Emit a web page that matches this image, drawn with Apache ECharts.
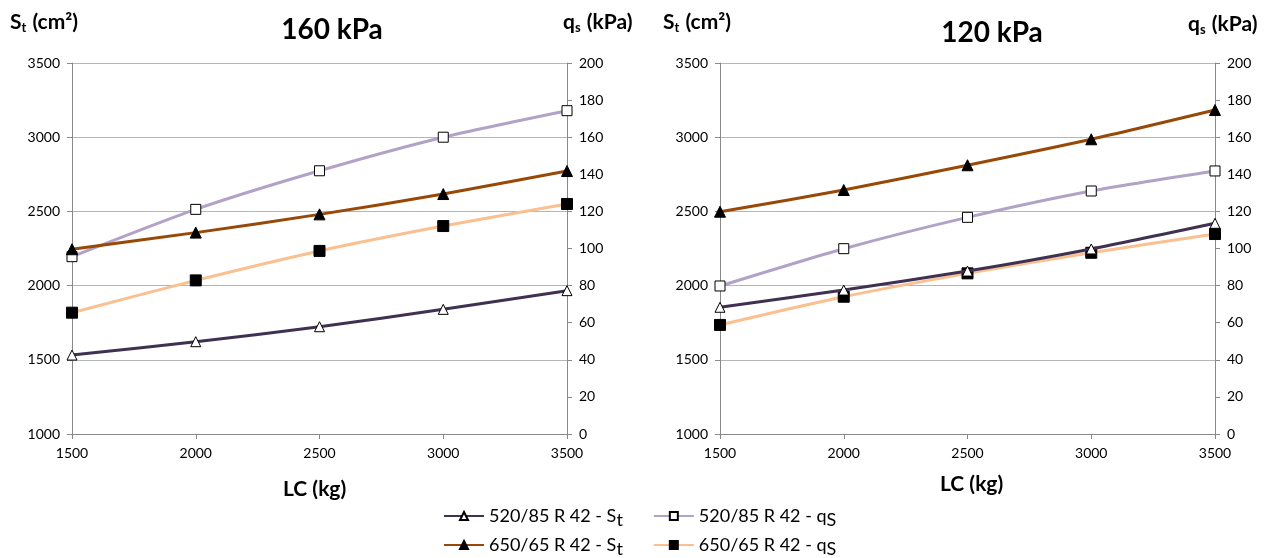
<!DOCTYPE html>
<html>
<head>
<meta charset="utf-8">
<script src="https://cdn.jsdelivr.net/npm/echarts@6/dist/echarts.min.js"></script>
<style>html,body{margin:0;padding:0;background:#fff;}#c{width:1272px;height:558px;}</style>
</head>
<body>
<div id="c"></div>
<script>
var loads = [1500, 2000, 2500, 3000, 3500];
// 160 kPa
var st520_160 = [1532, 1622, 1723, 1840, 1966];
var st650_160 = [2245, 2357, 2480, 2617, 2772];
var qs520_160 = [95.6, 121.1, 141.9, 160.0, 174.3];
var qs650_160 = [65.4, 82.8, 98.7, 112.1, 124.0];
// 120 kPa
var st520_120 = [1854, 1970, 2098, 2247, 2420];
var st650_120 = [2498, 2644, 2811, 2986, 3183];
var qs520_120 = [79.8, 99.9, 116.8, 131.0, 141.8];
var qs650_120 = [58.8, 74.0, 86.6, 97.7, 107.8];
var stTicks = {min: 1000, max: 3500, interval: 500};
var qsTicks = {min: 0, max: 200, interval: 20};
var lcTicks = {min: 1500, max: 3500, interval: 500};

var names = ['520/85 R 42 - St', '520/85 R 42 - qs', '650/65 R 42 - St', '650/65 R 42 - qs'];
var FONT = 'Lato';
function pairs(ys) { return loads.map(function (x, i) { return [x, ys[i]]; }); }

var styles = [
  {color: '#403152', symbol: 'triangle', fill: '#ffffff', size: 10},
  {color: '#b3a2c7', symbol: 'rect', fill: '#ffffff', size: 10},
  {color: '#984807', symbol: 'triangle', fill: '#000000', size: 11},
  {color: '#fac090', symbol: 'rect', fill: '#000000', size: 11}
];

function mkSeries(idx, data, xi, yi) {
  var s = styles[idx];
  return {
    name: names[idx], type: 'line', xAxisIndex: xi, yAxisIndex: yi,
    data: pairs(data), smooth: 0.25, symbol: s.symbol, symbolSize: s.size,
    showAllSymbol: true,
    lineStyle: {color: s.color, width: 3},
    itemStyle: {color: s.fill, borderColor: '#000', borderWidth: 1},
    emphasis: {disabled: true}, z: idx === 0 || idx === 2 ? 3 : 2
  };
}

function plain(v) { return String(v); }
var axisLabel = {color: '#000', fontFamily: FONT, fontSize: 14, formatter: plain};
var axisLine = {show: true, lineStyle: {color: '#898989', width: 1}};
var axisTick = {show: true, inside: false, length: 5, lineStyle: {color: '#898989'}};

function xAx(gi) {
  return {type: 'value', gridIndex: gi, min: lcTicks.min, max: lcTicks.max, interval: lcTicks.interval,
    axisLine: axisLine, axisTick: axisTick, splitLine: {show: false},
    axisLabel: Object.assign({margin: 12}, axisLabel)};
}
function yLeft(gi) {
  return {type: 'value', gridIndex: gi, position: 'left', min: stTicks.min, max: stTicks.max, interval: stTicks.interval,
    axisLine: axisLine, axisTick: axisTick,
    splitLine: {show: true, lineStyle: {color: '#b5b5b5', width: 1}},
    axisLabel: Object.assign({margin: 12}, axisLabel)};
}
function yRight(gi) {
  return {type: 'value', gridIndex: gi, position: 'right', min: qsTicks.min, max: qsTicks.max, interval: qsTicks.interval,
    axisLine: axisLine, axisTick: axisTick, splitLine: {show: false},
    axisLabel: Object.assign({margin: 12}, axisLabel)};
}

var richTitle = {
  a: {fontFamily: FONT, fontSize: 21, fontWeight: 'bold', color: '#000'},
  b: {fontFamily: FONT, fontSize: 13, fontWeight: 'bold', color: '#000', padding: [11, 1, 0, 0]}
};
function gText(x, y, text) {
  return {type: 'text', left: x, top: y, style: {text: text, rich: richTitle}};
}

var legendRich = {
  a: {fontFamily: FONT, fontSize: 18, color: '#000'},
  b: {fontFamily: FONT, fontSize: 18, color: '#000', padding: [9, 0, 0, 0]}
};
function legendFmt(n) {
  return n.replace(/ - S(t)$/, ' - {a|S}{b|t}').replace(/ - (q)s$/, ' - {a|q}{b|S}').replace(/^([^{]+)/, '{a|$1}');
}
function mkLegend(top, data) {
  return {top: top, left: 438, orient: 'horizontal', itemWidth: 40, itemHeight: 10, itemGap: 30,
    data: data, selectedMode: false, formatter: legendFmt,
    textStyle: {rich: legendRich, fontFamily: FONT, fontSize: 18, color: '#000'}};
}

var option = {
  backgroundColor: '#fff',
  animation: false,
  title: [
    {text: '160 kPa', left: 327, top: 11, textAlign: 'center', textStyle: {fontFamily: FONT, fontSize: 28, fontWeight: 'bold', color: '#000'}},
    {text: '120 kPa', left: 987, top: 14, textAlign: 'center', textStyle: {fontFamily: FONT, fontSize: 28, fontWeight: 'bold', color: '#000'}}
  ],
  legend: [mkLegend(502, [names[0], names[1]]), mkLegend(531, [names[2], names[3]])],
  grid: [
    {left: 72, top: 63, width: 495, height: 371},
    {left: 720, top: 63, width: 495, height: 371}
  ],
  xAxis: [xAx(0), xAx(1)],
  yAxis: [yLeft(0), yRight(0), yLeft(1), yRight(1)],
  graphic: [
    gText(10, 12, '{a|S}{b|t}{a| (cm²)}'),
    gText(563, 12, '{a|q}{b|s}{a| (kPa)}'),
    gText(663, 12, '{a|S}{b|t}{a| (cm²)}'),
    gText(1188, 14, '{a|q}{b|s}{a| (kPa)}'),
    {type: 'text', left: 283, top: 479, style: {text: 'LC (kg)', fontFamily: FONT, fontSize: 21, fontWeight: 'bold', fill: '#000'}},
    {type: 'text', left: 940, top: 474, style: {text: 'LC (kg)', fontFamily: FONT, fontSize: 21, fontWeight: 'bold', fill: '#000'}}
  ],
  series: [
    mkSeries(0, st520_160, 0, 0),
    mkSeries(1, qs520_160, 0, 1),
    mkSeries(2, st650_160, 0, 0),
    mkSeries(3, qs650_160, 0, 1),
    mkSeries(0, st520_120, 1, 2),
    mkSeries(1, qs520_120, 1, 3),
    mkSeries(2, st650_120, 1, 2),
    mkSeries(3, qs650_120, 1, 3)
  ]
};
var chart = echarts.init(document.getElementById('c'), null, {renderer: 'canvas'});
chart.setOption(option);
</script>
</body>
</html>
